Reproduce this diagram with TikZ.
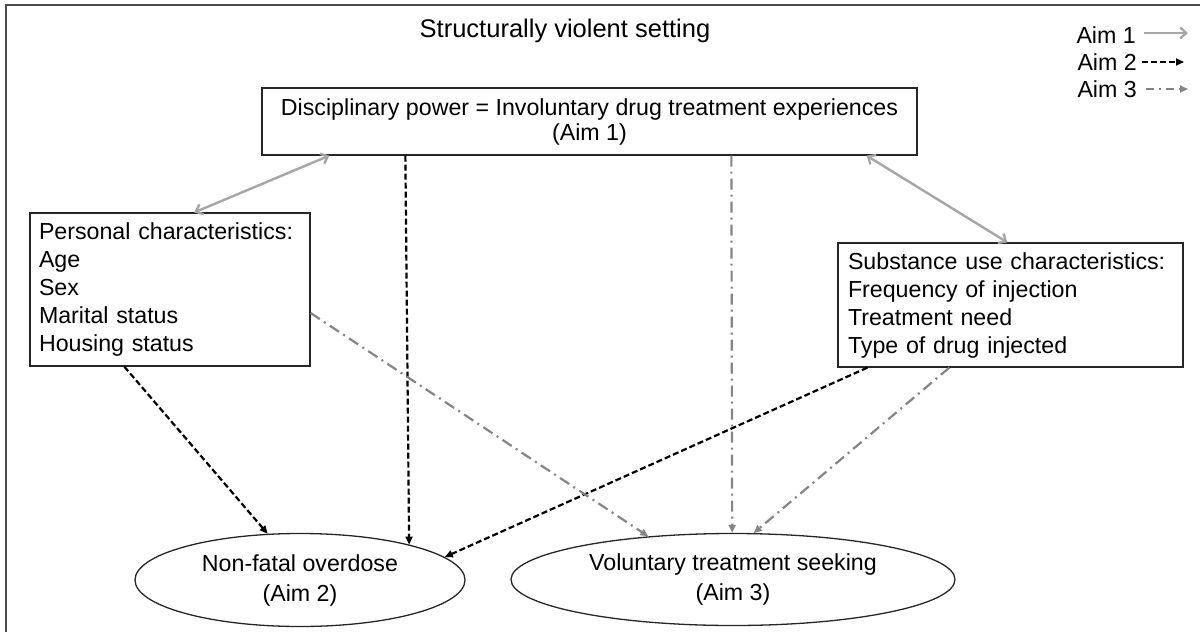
\documentclass[tikz,border=0pt]{standalone}
\usepackage{fontspec}
\setmainfont{Liberation Sans}
\usetikzlibrary{arrows.meta,calc,shapes.geometric}
\begin{document}
\begin{tikzpicture}[x=1pt,y=-1pt,
  txt/.style={font=\fontsize{23.2}{28}\selectfont},
  boxn/.style={draw=black!85,line width=1.3pt,txt,inner sep=0pt},
  ell/.style={ellipse,draw=black!85,line width=1.3pt,txt,inner sep=0pt,align=center},
  legtxt/.style={txt,inner sep=0pt,anchor=east},
  aimone/.style={draw=black!35,line width=2.4pt},
  aimtwo/.style={draw=black,line width=2.2pt,dash pattern=on 6pt off 3pt,-{Triangle[length=8pt,width=7pt]}},
  aimthree/.style={draw=black!48,line width=2.2pt,dash pattern=on 11pt off 5pt on 2pt off 5pt,-{Triangle[length=8pt,width=7pt]}},
  barb/.tip={Straight Barb[length=6pt,width=11pt]},
]
\useasboundingbox (0,0) rectangle (1200,632);
\fill[white] (0,0) rectangle (1200,632);
\draw[black!70,line width=2pt] (6,632) -- (6,5) -- (1200,5);

\node[txt,font=\fontsize{25.5}{30}\selectfont] (title) at (565,31) {Structurally violent setting};

\node[legtxt] (l1) at (1136,35) {Aim 1};
\node[legtxt] (l2) at (1137,62) {Aim 2};
\node[legtxt] (l3) at (1137,89) {Aim 3};
\draw[aimone,-barb] ([xshift=8pt,yshift=2pt]l1.east) -- ([xshift=52pt,yshift=2pt]l1.east);
\draw[aimtwo] ([xshift=5pt]l2.east) -- ([xshift=47pt]l2.east);
\draw[aimthree,dash pattern=on 8pt off 5pt on 2pt off 5pt] ([xshift=9pt]l3.east) -- ([xshift=51pt]l3.east);

\node[boxn,minimum width=655pt,minimum height=67pt,align=center] (dp) at (589.5,121.5)
  {Disciplinary power = Involuntary drug treatment experiences\\[-3pt](Aim 1)};

\node[boxn,minimum width=280pt,minimum height=153pt,text width=262pt,align=left] (pc) at (170,289.5)
  {Personal characteristics:\\Age\\Sex\\Marital status\\Housing status};

\node[boxn,minimum width=345pt,minimum height=124pt,text width=325pt,align=left] (su) at (1010.5,305)
  {Substance use characteristics:\\Frequency of injection\\Treatment need\\Type of drug injected};

\node[ell,minimum width=330pt,minimum height=93pt] (ov) at (300,580)
  {Non-fatal overdose\\[2pt](Aim 2)};
\node[ell,minimum width=444pt,minimum height=92pt] (vs) at (733,579.5)
  {Voluntary treatment seeking\\[2pt](Aim 3)};

% Aim 1
\draw[aimone,barb-barb] ([xshift=68pt]dp.south west) -- ([xshift=165pt]pc.north west);
\draw[aimone,barb-barb] ([xshift=-51pt]dp.south east) -- ([xshift=170pt]su.north west);

% Aim 2
\draw[aimtwo] ([xshift=95pt]pc.south west) -- (ov.125);
\draw[aimtwo] ([xshift=144pt]dp.south west) -- (ov.18.6);
\draw[aimtwo] ([xshift=30pt]su.south west) -- (ov.9);

% Aim 3
\draw[aimthree] ([xshift=470pt]dp.south west) -- (vs.91);
\draw[aimthree] ([yshift=-23.5pt]pc.east) -- (vs.153);
\draw[aimthree] ([xshift=112pt]su.south west) -- (vs.66);
\end{tikzpicture}
\end{document}
